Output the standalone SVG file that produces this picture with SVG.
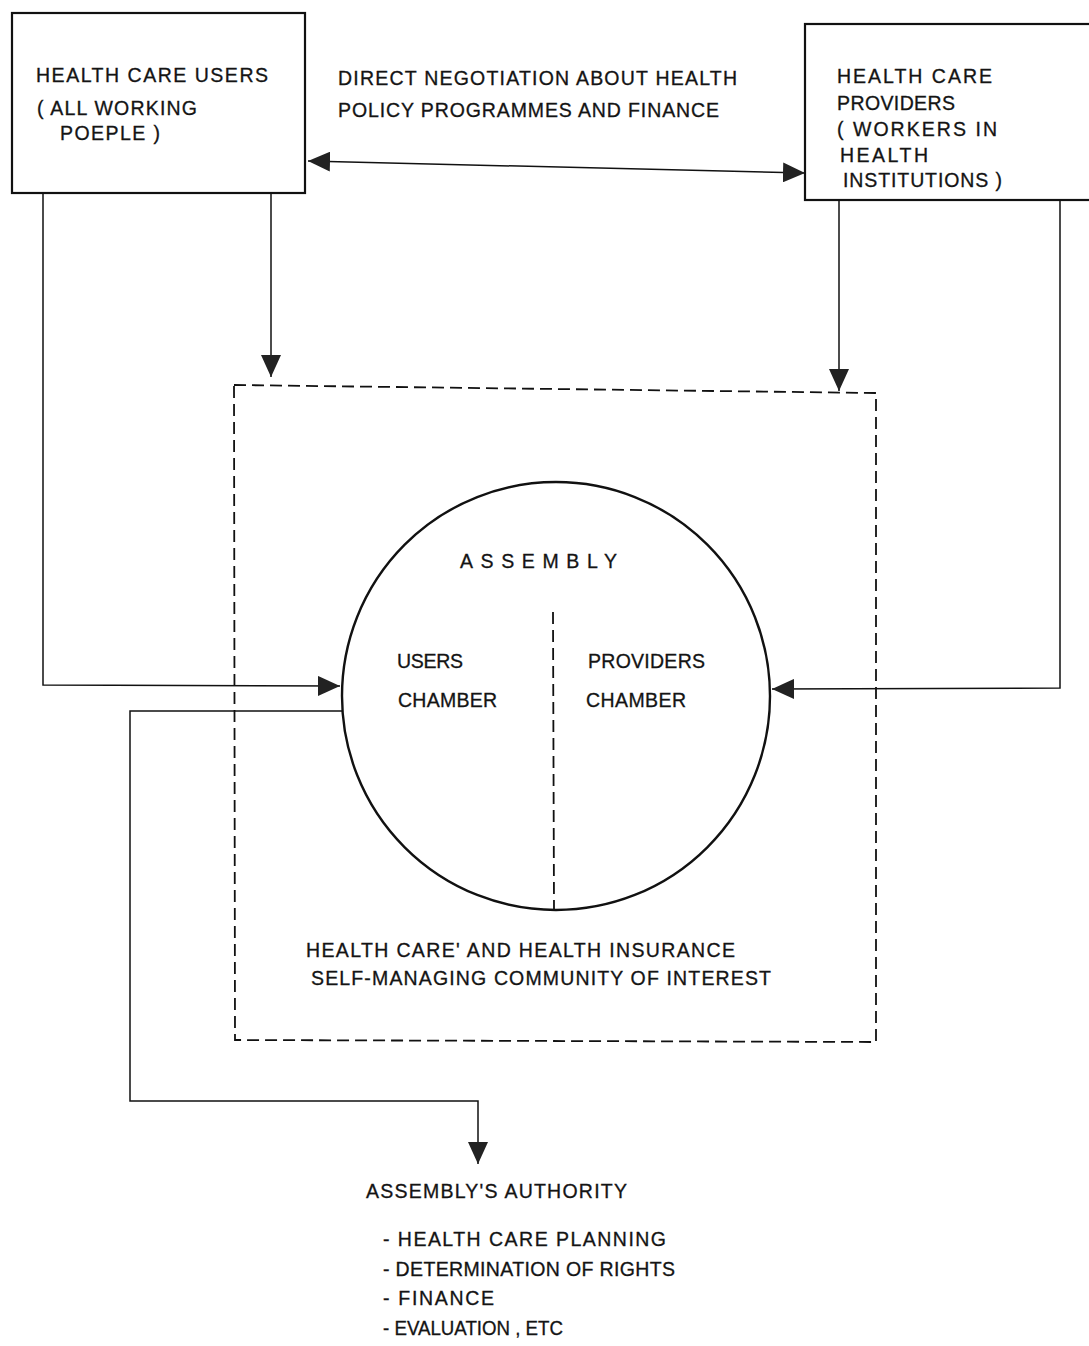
<svg xmlns="http://www.w3.org/2000/svg" width="1089" height="1346" viewBox="0 0 1089 1346">
<style>
text{font-family:"Liberation Sans",Arial,sans-serif;font-size:19.5px;fill:#141414;stroke:#141414;stroke-width:0.3;}
.box{fill:none;stroke:#111;stroke-width:2.2;}
.ln{fill:none;stroke:#111;stroke-width:1.5;}
.dash{fill:none;stroke:#111;stroke-width:1.8;stroke-dasharray:12,6;}
</style>
<defs>
<marker id="ah" viewBox="0 0 22 20" refX="22" refY="10" markerWidth="22" markerHeight="20" markerUnits="userSpaceOnUse" orient="auto-start-reverse">
<path d="M0,0 L22,10 L0,20 Z" fill="#222"/>
</marker>
</defs>
<rect width="1089" height="1346" fill="#fff"/>

<g id="users">
<rect class="box" x="12" y="13" width="293" height="180"/>
<text x="36" y="82" textLength="232" lengthAdjust="spacing">HEALTH CARE USERS</text>
<text x="37" y="115" textLength="160" lengthAdjust="spacing">( ALL WORKING</text>
<text x="60" y="140" textLength="100" lengthAdjust="spacing">POEPLE )</text>
</g>

<g id="providers">
<rect class="box" x="805" y="24" width="300" height="176"/>
<text x="837" y="83" textLength="155" lengthAdjust="spacing">HEALTH  CARE</text>
<text x="837" y="110" textLength="118" lengthAdjust="spacing">PROVIDERS</text>
<text x="837" y="136" textLength="160" lengthAdjust="spacing">( WORKERS  IN</text>
<text x="840" y="162" textLength="88" lengthAdjust="spacing">HEALTH</text>
<text x="843" y="187" textLength="159" lengthAdjust="spacing">INSTITUTIONS )</text>
</g>

<g id="negotiation-label">
<text x="338" y="85" textLength="399" lengthAdjust="spacing">DIRECT NEGOTIATION ABOUT HEALTH</text>
<text x="338" y="117" textLength="381" lengthAdjust="spacing">POLICY PROGRAMMES AND FINANCE</text>
</g>

<g id="community">
<path class="dash" d="M234,385 L876,393 L876,1042 L235,1040 Z"/>
<text x="306" y="957" textLength="429" lengthAdjust="spacing">HEALTH CARE' AND  HEALTH  INSURANCE</text>
<text x="311" y="985" textLength="460" lengthAdjust="spacing">SELF-MANAGING  COMMUNITY  OF INTEREST</text>
</g>

<g id="assembly">
<circle cx="556" cy="696" r="214" fill="none" stroke="#111" stroke-width="2.4"/>
<line class="dash" x1="553" y1="612" x2="554" y2="909" stroke-dasharray="14,5"/>
<text x="460" y="568" textLength="157" lengthAdjust="spacing">ASSEMBLY</text>
<text x="397" y="668" textLength="66" lengthAdjust="spacing">USERS</text>
<text x="398" y="707" textLength="99" lengthAdjust="spacing">CHAMBER</text>
<text x="588" y="668" textLength="117" lengthAdjust="spacing">PROVIDERS</text>
<text x="586" y="707" textLength="100" lengthAdjust="spacing">CHAMBER</text>
</g>

<g id="authority">
<text x="366" y="1198" textLength="261" lengthAdjust="spacing">ASSEMBLY'S  AUTHORITY</text>
<text x="383" y="1246" textLength="283" lengthAdjust="spacing">- HEALTH CARE PLANNING</text>
<text x="383" y="1276" textLength="292" lengthAdjust="spacing">- DETERMINATION OF RIGHTS</text>
<text x="383" y="1305" textLength="111" lengthAdjust="spacing">- FINANCE</text>
<text x="383" y="1335" textLength="180" lengthAdjust="spacingAndGlyphs">- EVALUATION , ETC</text>
</g>

<g id="connectors">
<path class="ln" d="M308,161 L805,173" marker-start="url(#ah)" marker-end="url(#ah)"/>
<path class="ln" d="M271,193 L271,377" marker-end="url(#ah)"/>
<path class="ln" d="M43,193 L43,685 L340,686" marker-end="url(#ah)"/>
<path class="ln" d="M839,200 L839,391" marker-end="url(#ah)"/>
<path class="ln" d="M1060,200 L1060,688 L772,689" marker-end="url(#ah)"/>
<path class="ln" d="M343,711 L130,711 L130,1101 L478,1101 L478,1164" marker-end="url(#ah)"/>
</g>
</svg>
